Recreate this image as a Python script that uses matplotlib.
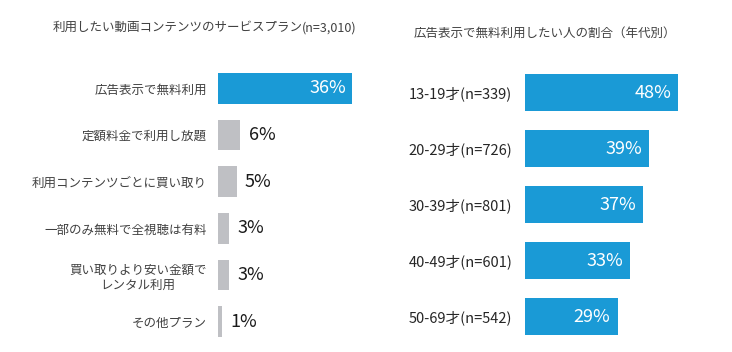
import matplotlib.pyplot as plt

plt.rcParams['font.family'] = ['Noto Sans CJK JP', 'DejaVu Sans']

# 左: 利用したい動画コンテンツのサービスプラン
plan_labels = ['広告表示で無料利用', '定額料金で利用し放題', '利用コンテンツごとに買い取り',
               '一部のみ無料で全視聴は有料', '買い取りより安い金額で\nレンタル利用', 'その他プラン']
plan_values = [36, 6, 5, 3, 3, 1]

# 右: 広告表示で無料利用したい人の割合(年代別)
age_labels = ['13-19才(n=339)', '20-29才(n=726)', '30-39才(n=801)',
              '40-49才(n=601)', '50-69才(n=542)']
age_values = [48, 39, 37, 33, 29]

blue = '#1a9ad6'
gray = '#bfc0c4'
text_c = '#404040'

W, H = 732, 352
fig = plt.figure(figsize=(W / 100, H / 100), dpi=100)


def px_axes(left, top, width, height):
    return fig.add_axes([left / W, (H - top - height) / H, width / W, height / H])


# 左のグラフ
ax1 = px_axes(218, 65, 150, 280)
ypos = list(range(len(plan_values)))
colors = [blue] + [gray] * (len(plan_values) - 1)
ax1.barh(ypos, plan_values, height=0.66, color=colors)
ax1.set_xlim(0, 150 / 3.72)
ax1.set_ylim(len(plan_values) - 0.5, -0.5)
ax1.set_yticks(ypos)
ax1.set_yticklabels(plan_labels, fontsize=9, color=text_c, multialignment='center')
ax1.tick_params(axis='y', length=0, pad=8)
ax1.set_xticks([])
for s in ax1.spines.values():
    s.set_visible(False)
for i, v in enumerate(plan_values):
    if i == 0:
        ax1.text(v - 1.6, i, f'{v}%', color='white', fontsize=13,
                 ha='right', va='center')
    else:
        ax1.text(v + 2.2, i, f'{v}%', color='#1a1a1a', fontsize=13,
                 ha='left', va='center')

fig.text(53 / W, 1 - 27 / H, '利用したい動画コンテンツのサービスプラン',
         fontsize=9, color=text_c, ha='left', va='center')
fig.text(302 / W, 1 - 28 / H, '(n=3,010)',
         fontsize=9, color=text_c, ha='left', va='center')

# 右のグラフ
ax2 = px_axes(525, 64.5, 200, 280)
ypos2 = list(range(len(age_values)))
ax2.barh(ypos2, age_values, height=0.66, color=blue)
ax2.set_xlim(0, 200 / 3.19)
ax2.set_ylim(len(age_values) - 0.5, -0.5)
ax2.set_yticks(ypos2)
ax2.set_yticklabels(age_labels, fontsize=10.5, color='#262626')
ax2.tick_params(axis='y', length=0, pad=9)
ax2.set_xticks([])
for s in ax2.spines.values():
    s.set_visible(False)
for i, v in enumerate(age_values):
    ax2.text(v - 2.2, i, f'{v}%', color='white', fontsize=13,
             ha='right', va='center')

fig.text(545 / W, 1 - 33 / H, '広告表示で無料利用したい人の割合（年代別）',
         fontsize=9, color=text_c, ha='center', va='center')

fig.savefig('out.png', dpi=100, facecolor='white')
